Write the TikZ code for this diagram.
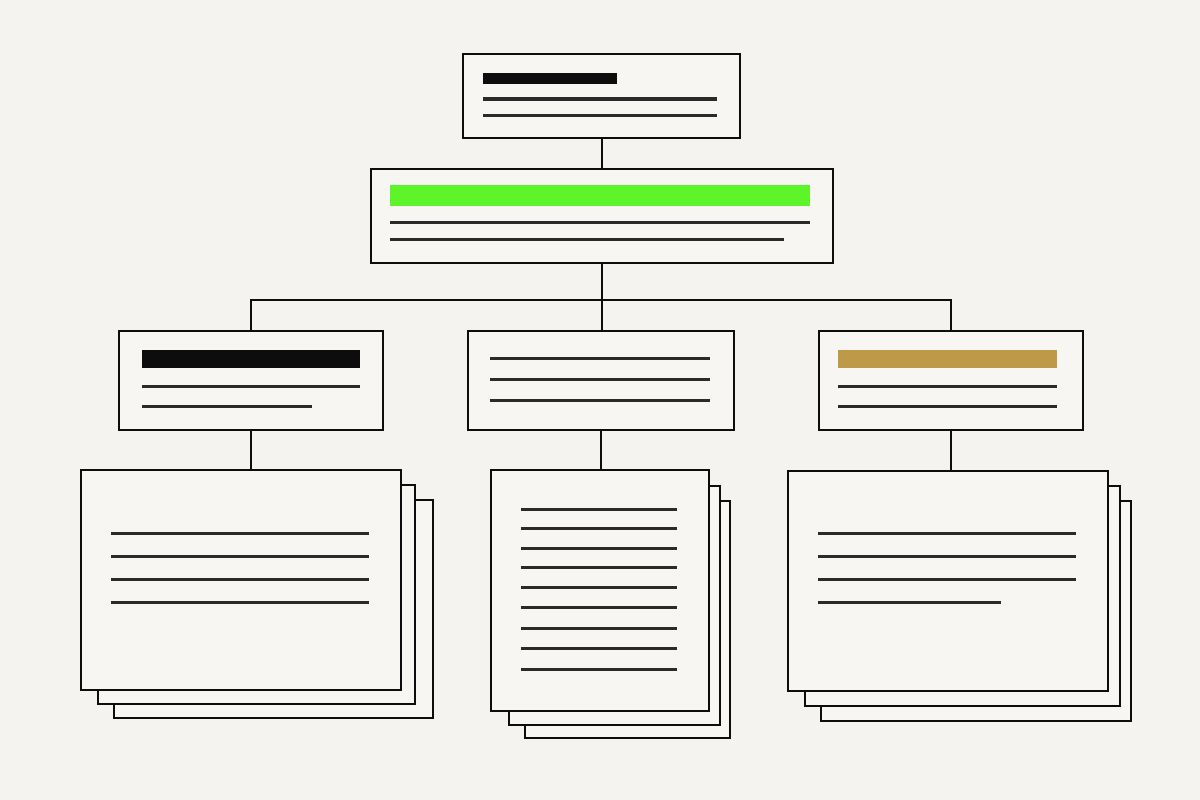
\documentclass[tikz,border=0pt]{standalone}
\usetikzlibrary{positioning}
\definecolor{paper}{HTML}{F4F3EF}
\definecolor{boxfill}{HTML}{F7F6F2}
\definecolor{barlime}{HTML}{5DF52A}
\definecolor{bargold}{HTML}{BE9A48}
\definecolor{ink}{HTML}{0D0D0D}
\definecolor{linegrey}{HTML}{2A2A2A}
\begin{document}
\begin{tikzpicture}[x=1pt,y=-1pt]
\tikzstyle{card} = [rectangle, draw=ink, line width=2.2pt, fill=boxfill, inner sep=0pt, anchor=north west]
\tikzstyle{page} = [card, line width=2.4pt]
\tikzstyle{textline} = [draw=linegrey, line width=3pt]
\tikzstyle{link} = [draw=ink, line width=2.2pt]
\fill[paper] (0,0) rectangle (1200,800);
\useasboundingbox (0,0) rectangle (1200,800);

% top card
\node[card, minimum width=277pt, minimum height=84pt] (top) at (462,53) {};
\fill[ink] (483,73) rectangle (617,84);
\draw[textline] (483,99) -- (717,99);
\draw[textline] (483,115) -- (717,115);

% main card
\node[card, minimum width=462pt, minimum height=94pt] (main) at (370,168) {};
\fill[barlime] (390,185) rectangle (810,206);
\draw[textline] (390,222) -- (810,222);
\draw[textline] (390,239) -- (784,239);

% three cards
\node[card, minimum width=264pt, minimum height=99pt] (left) at (118,330) {};
\fill[ink] (142,350) rectangle (360,368);
\draw[textline] (142,386) -- (360,386);
\draw[textline] (142,406) -- (312,406);

\node[card, minimum width=266pt, minimum height=99pt] (centre) at (467,330) {};
\foreach \y in {358,379,400}
  \draw[textline] (490,\y) -- (710,\y);

\node[card, minimum width=264pt, minimum height=99pt] (right) at (818,330) {};
\fill[bargold] (838,350) rectangle (1057,368);
\draw[textline] (838,386) -- (1057,386);
\draw[textline] (838,406) -- (1057,406);

% stacks of pages
\node[page, minimum width=319pt, minimum height=218pt] (leftback) at (113,499) {};
\node[page, minimum width=317pt, minimum height=219pt] (leftmid) at (97,484) {};
\node[page, minimum width=320pt, minimum height=220pt] (leftdoc) at (80,469) {};
\foreach \y in {533,556,579,602}
  \draw[textline] (111,\y) -- (369,\y);

\node[page, minimum width=205pt, minimum height=237pt] (centreback) at (524,500) {};
\node[page, minimum width=211pt, minimum height=239pt] (centremid) at (508,485) {};
\node[page, minimum width=218pt, minimum height=241pt] (centredoc) at (490,469) {};
\foreach \y in {509,528,548,567,587,607,628,648,669}
  \draw[textline] (521,\y) -- (677,\y);

\node[page, minimum width=310pt, minimum height=220pt] (rightback) at (820,500) {};
\node[page, minimum width=315pt, minimum height=220pt] (rightmid) at (804,485) {};
\node[page, minimum width=320pt, minimum height=220pt] (rightdoc) at (787,470) {};
\foreach \y in {533,556,579}
  \draw[textline] (818,\y) -- (1076,\y);
\draw[textline] (818,602) -- (1001,602);

% connectors
\path (main.south) ++(0,36) coordinate (split);
\draw[link] (top.south) -- (top.south |- main.north);
\draw[link] (main.south) -- (split);
\draw[link] (split) -| (left.north);
\draw[link] (split) -- (split |- centre.north);
\draw[link] (split) -| (right.north);
\draw[link] (left.south) -- (left.south |- leftdoc.north);
\draw[link] (centre.south) -- (centre.south |- centredoc.north);
\draw[link] (right.south) -- (right.south |- rightdoc.north);
\end{tikzpicture}
\end{document}
